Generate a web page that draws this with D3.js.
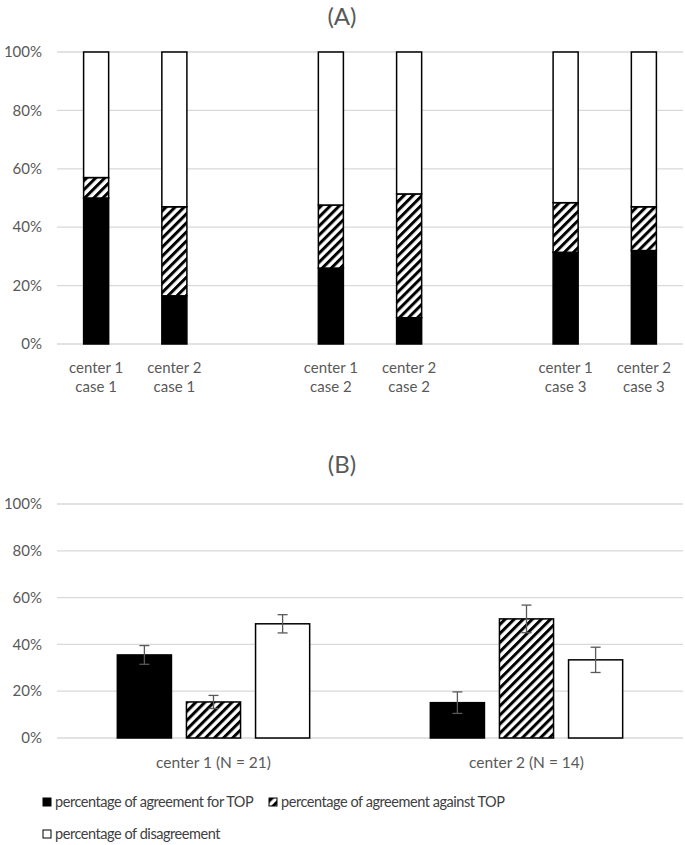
<!DOCTYPE html>
<html><head><meta charset="utf-8">
<script src="https://cdn.jsdelivr.net/npm/d3@7"></script>
<style>
body{margin:0;background:#fff;}
text{font-family:Lato,"Open Sans",sans-serif;}
</style></head>
<body><svg id="c" width="685" height="845"></svg>
<script>
// ---- Data ----
const seriesNames = ["percentage of agreement for TOP","percentage of agreement against TOP","percentage of disagreement"];
// Panel A (stacked, percent)
const catsA = ["c1c1","c2c1","gap1","c1c2","c2c2","gap2","c1c3","c2c3"];
const labelsA1 = ["center 1","center 2","","center 1","center 2","","center 1","center 2"];
const labelsA2 = ["case 1","case 1","","case 2","case 2","","case 3","case 3"];
const agreeForA     = [50, 16.5, null, 26, 9, null, 31.4, 32];
const agreeAgainstA = [7, 30.5, null, 21.6, 42.4, null, 17, 15];
const disagreeA     = [43, 53, null, 52.4, 48.6, null, 51.6, 53];
// Panel B (clustered, percent with error)
const catsB = ["center 1 (N = 21)","center 2 (N = 14)"];
const agreeForB     = [35.5, 15.1];
const agreeAgainstB = [15.4, 50.9];
const disagreeB     = [48.8, 33.4];
const errForB       = [4.0, 4.6];
const errAgainstB   = [2.8, 5.9];
const errDisagreeB  = [3.9, 5.4];
const yTicks = [0,20,40,60,80,100];

// ---- Setup ----
const svg = d3.select("#c");
const grey = "#595959";
const defs = svg.append("defs");
const pat = defs.append("pattern").attr("id","hatch").attr("patternUnits","userSpaceOnUse")
  .attr("width",6.4).attr("height",6.4).attr("patternTransform","rotate(45)");
pat.append("rect").attr("width",6.4).attr("height",6.4).attr("fill","#fff");
pat.append("rect").attr("x",0).attr("width",3).attr("height",6.4).attr("fill","#000");
const fills = ["#000","url(#hatch)","#fff"];

const x0 = 57, x1 = 683;

function yAxis(g, y){
  g.selectAll("line.grid").data(yTicks).join("line").attr("class","grid")
    .attr("x1",x0).attr("x2",x1).attr("y1",d=>y(d)).attr("y2",d=>y(d))
    .attr("stroke","#d9d9d9").attr("stroke-width",1.3);
  g.selectAll("text.yl").data(yTicks).join("text").attr("class","yl")
    .attr("x",42).attr("y",d=>y(d)).attr("dy","0.35em").attr("text-anchor","end")
    .attr("font-size",15).attr("fill",grey).text(d=>d+"%");
}

// ---- Panel A ----
svg.append("text").attr("x",342).attr("y",17).attr("dy","0.35em").attr("text-anchor","middle")
  .attr("font-size",24).attr("fill",grey).text("(A)");
const yA = d3.scaleLinear().domain([0,100]).range([344,52]);
const xA = d3.scaleBand().domain(catsA).range([x0,x1]).paddingInner(0.68).paddingOuter(0.34);
const gA = svg.append("g");
yAxis(gA, yA);
const stackA = catsA.map((c,i)=>({c, vals:[agreeForA[i],agreeAgainstA[i],disagreeA[i]]})).filter(d=>d.vals[0]!==null);
stackA.forEach(d=>{
  let base=0;
  d.vals.forEach((v,k)=>{
    gA.append("rect").attr("x",xA(d.c)).attr("width",xA.bandwidth())
      .attr("y",yA(base+v)).attr("height",yA(base)-yA(base+v))
      .attr("fill",fills[k]).attr("stroke","#000").attr("stroke-width",1.5);
    base+=v;
  });
});
catsA.forEach((c,i)=>{
  if(!labelsA1[i]) return;
  const cx = xA(c)+xA.bandwidth()/2;
  gA.append("text").attr("x",cx).attr("y",368).attr("dy","0.35em").attr("text-anchor","middle")
    .attr("font-size",15).attr("fill",grey).text(labelsA1[i]);
  gA.append("text").attr("x",cx).attr("y",387).attr("dy","0.35em").attr("text-anchor","middle")
    .attr("font-size",15).attr("fill",grey).text(labelsA2[i]);
});

// ---- Panel B ----
svg.append("text").attr("x",342).attr("y",465).attr("dy","0.35em").attr("text-anchor","middle")
  .attr("font-size",24).attr("fill",grey).text("(B)");
const yB = d3.scaleLinear().domain([0,100]).range([738,504]);
const xB = d3.scaleBand().domain(catsB).range([x0,x1]).padding(0);
const xS = d3.scaleBand().domain([0,1,2]).range([0,xB.bandwidth()]).paddingInner(0.217).paddingOuter(0.873);
const gB = svg.append("g");
yAxis(gB, yB);
const valsB = [agreeForB, agreeAgainstB, disagreeB];
const errsB = [errForB, errAgainstB, errDisagreeB];
catsB.forEach((c,i)=>{
  [0,1,2].forEach(k=>{
    const v = valsB[k][i], e = errsB[k][i];
    const bx = xB(c)+xS(k), w = xS.bandwidth();
    gB.append("rect").attr("x",bx).attr("width",w).attr("y",yB(v)).attr("height",yB(0)-yB(v))
      .attr("fill",fills[k]).attr("stroke","#000").attr("stroke-width",1.5);
    const cx = bx+w/2;
    gB.append("line").attr("x1",cx).attr("x2",cx).attr("y1",yB(v+e)).attr("y2",yB(v-e))
      .attr("stroke",grey).attr("stroke-width",1.3);
    [v+e, v-e].forEach(t=>gB.append("line").attr("x1",cx-5).attr("x2",cx+5).attr("y1",yB(t)).attr("y2",yB(t))
      .attr("stroke",grey).attr("stroke-width",1.3));
  });
  gB.append("text").attr("x",xB(c)+xB.bandwidth()/2).attr("y",763).attr("dy","0.35em").attr("text-anchor","middle")
    .attr("font-size",15.5).attr("fill",grey).text(c);
});

// ---- Legend ----
const legPos = [[43,802],[269,802],[43,834]];
const lg = svg.append("g");
seriesNames.forEach((s,k)=>{
  const [lx,ly] = legPos[k];
  lg.append("rect").attr("x",lx).attr("y",ly-4).attr("width",8).attr("height",8)
    .attr("fill",k===1?"url(#hatch)":fills[k]).attr("stroke","#000").attr("stroke-width",1);
  lg.append("text").attr("x",lx+12).attr("y",ly).attr("dy","0.35em").attr("font-size",14.5)
    .attr("letter-spacing","-0.45px").attr("fill","#404040").text(s);
});
</script></body></html>
